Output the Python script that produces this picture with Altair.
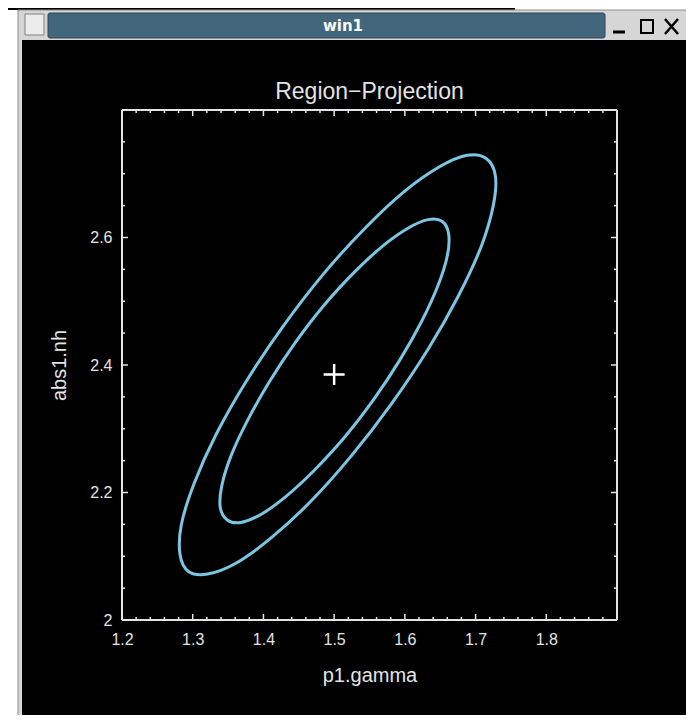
import altair as alt
import pandas as pd

# ---- data (confidence contours, best-fit point) ----
outer_x = [1.715, 1.728, 1.725, 1.708, 1.676, 1.633, 1.581, 1.524, 1.466, 1.410, 1.361, 1.321,
           1.294, 1.282, 1.284, 1.302, 1.333, 1.376, 1.428, 1.485, 1.544, 1.599, 1.649, 1.688]
outer_y = [2.724, 2.697, 2.650, 2.586, 2.509, 2.425, 2.339, 2.257, 2.185, 2.128, 2.089, 2.072,
           2.076, 2.103, 2.150, 2.214, 2.291, 2.375, 2.461, 2.543, 2.615, 2.672, 2.711, 2.729]
inner_x = [1.653, 1.662, 1.660, 1.647, 1.624, 1.593, 1.556, 1.515, 1.472, 1.432, 1.397, 1.368,
           1.349, 1.339, 1.341, 1.354, 1.377, 1.408, 1.445, 1.486, 1.529, 1.569, 1.605, 1.633]
inner_y = [2.625, 2.605, 2.571, 2.525, 2.469, 2.408, 2.346, 2.287, 2.235, 2.194, 2.166, 2.153,
           2.157, 2.176, 2.210, 2.257, 2.312, 2.373, 2.435, 2.494, 2.546, 2.587, 2.615, 2.628]
best_fit_x = [1.5]
best_fit_y = [2.385]

x_domain = [1.2, 1.9]
y_domain = [2.0, 2.8]
x_labels = [1.2, 1.3, 1.4, 1.5, 1.6, 1.7, 1.8]
y_labels = [2.0, 2.2, 2.4, 2.6]
x_major = [1.3, 1.4, 1.5, 1.6, 1.7, 1.8]
x_minor = [1.22, 1.24, 1.26, 1.28, 1.32, 1.34, 1.36, 1.38, 1.42, 1.44, 1.46, 1.48,
           1.52, 1.54, 1.56, 1.58, 1.62, 1.64, 1.66, 1.68, 1.72, 1.74, 1.76, 1.78,
           1.82, 1.84, 1.86, 1.88]
y_major = [2.2, 2.4, 2.6]
y_minor = [2.05, 2.1, 2.15, 2.25, 2.3, 2.35, 2.45, 2.5, 2.55, 2.65, 2.7, 2.75]

TITLE = "Region\u2212Projection"
X_TITLE = "p1.gamma"
Y_TITLE = "abs1.nh"
WIN_TITLE = "win1"

W, H = 495, 510
FG = "#e4e4e4"
CONTOUR = "#7cc6e4"
FONT = "Liberation Sans"

rows = []
for name, xs_, ys_ in (("outer", outer_x, outer_y), ("inner", inner_x, inner_y)):
    for i, (a, b) in enumerate(zip(xs_, ys_)):
        rows.append({"contour": name, "i": i, "x": a, "y": b})
cdf = pd.DataFrame(rows)

xs = alt.Scale(domain=x_domain, nice=False, zero=False)
ys = alt.Scale(domain=y_domain, nice=False, zero=False)

x_axis = alt.Axis(values=x_labels, format=".1f", title=X_TITLE, grid=False, domain=False,
                  ticks=False, tickSize=0, labelFlush=False, labelColor=FG, labelFont=FONT,
                  labelFontSize=16, labelPadding=11, titleColor=FG, titleFont=FONT,
                  titleFontSize=20, titleFontWeight="normal", titlePadding=18, zindex=1)
y_axis = alt.Axis(values=y_labels, format=".1~f", title=Y_TITLE, grid=False, domain=False,
                  ticks=False, tickSize=0, labelFlush=False, labelColor=FG, labelFont=FONT,
                  labelFontSize=16, labelPadding=10, titleColor=FG, titleFont=FONT,
                  titleFontSize=20, titleFontWeight="normal", titlePadding=20, zindex=1)

def X(f="x"):
    return alt.X(f"{f}:Q", scale=xs, axis=x_axis, title=X_TITLE)

def Y(f="y"):
    return alt.Y(f"{f}:Q", scale=ys, axis=y_axis, title=Y_TITLE)

one = pd.DataFrame({"k": [0]})

# ---- window chrome (decoration) ----
def rect(x1, x2, y1, y2, **kw):
    return alt.Chart(one).mark_rect(**kw).encode(
        x=alt.value(x1), x2=alt.value(x2), y=alt.value(y1), y2=alt.value(y2))

def seg(x1, x2, y1, y2, **kw):
    return alt.Chart(one).mark_rule(**kw).encode(
        x=alt.value(x1), x2=alt.value(x2), y=alt.value(y1), y2=alt.value(y2))

strip = rect(-114, 393, -102, -100, fill="black")
frame = rect(-104, 570, -100, 610, fill="#d6d6d6", stroke="#8c8c8c", strokeWidth=1)
content = rect(-100, 570, -70, 610, fill="black")
bar = rect(-74, 483, -97, -72, fill="#42667b", stroke="#2c4658", strokeWidth=1, cornerRadius=2)
bar_text = alt.Chart(one).mark_text(text=WIN_TITLE, color="white", font="DejaVu Sans",
                                    fontWeight="bold", fontSize=15, baseline="middle",
                                    align="center").encode(
    x=alt.value(221), y=alt.value(-84))
icon = rect(-97, -78, -96, -75, fill="#ececec", stroke="#808080", strokeWidth=1)
minimize = seg(491, 503, -78, -78, color="black", strokeWidth=3)
maximize = rect(519, 531, -90, -77, fill="#d6d6d6", stroke="black", strokeWidth=2)
close1 = seg(543, 556, -91, -76, color="black", strokeWidth=2.5)
close2 = seg(556, 543, -91, -76, color="black", strokeWidth=2.5)

title_text = alt.Chart(one).mark_text(text=TITLE, color=FG, font=FONT, fontSize=23,
                                      baseline="middle", align="center").encode(
    x=alt.value(W / 2), y=alt.value(-18))

# ---- plot box and inward ticks ----
box_v = alt.Chart(pd.DataFrame({"x": x_domain})).mark_rule(color=FG, strokeWidth=2).encode(
    x=X(), y=alt.value(0), y2=alt.value(H))
box_h = alt.Chart(pd.DataFrame({"y": y_domain})).mark_rule(color=FG, strokeWidth=2).encode(
    y=Y(), x=alt.value(0), x2=alt.value(W))

def xticks(vals, length):
    d = pd.DataFrame({"x": vals})
    b = alt.Chart(d).mark_rule(color=FG, strokeWidth=1.5).encode(
        x=X(), y=alt.value(H), y2=alt.value(H - length))
    t = alt.Chart(d).mark_rule(color=FG, strokeWidth=1.5).encode(
        x=X(), y=alt.value(0), y2=alt.value(length))
    return [b, t]

def yticks(vals, length):
    d = pd.DataFrame({"y": vals})
    l = alt.Chart(d).mark_rule(color=FG, strokeWidth=1.5).encode(
        y=Y(), x=alt.value(0), x2=alt.value(length))
    r = alt.Chart(d).mark_rule(color=FG, strokeWidth=1.5).encode(
        y=Y(), x=alt.value(W), x2=alt.value(W - length))
    return [l, r]

ticks = xticks(x_major, 6) + xticks(x_minor, 3) + yticks(y_major, 6) + yticks(y_minor, 3)

# ---- contours ----
contours = alt.Chart(cdf).mark_line(interpolate="cardinal-closed", strokeWidth=3,
                                     color=CONTOUR).encode(
    x=X(), y=Y(), detail="contour:N", order="i:Q")

cross = alt.Chart(pd.DataFrame({"x": best_fit_x, "y": best_fit_y})).mark_point(
    shape="M-1,0L1,0M0,-1L0,1", size=440, filled=False, color="white",
    strokeWidth=2.5, opacity=1).encode(x=X(), y=Y())

chart = alt.layer(
    strip, frame, content, bar, bar_text, icon, minimize, maximize, close1, close2,
    title_text, *ticks, box_v, box_h, contours, cross
).properties(
    width=W, height=H,
    autosize=alt.AutoSizeParams(type="none"),
    padding={"left": 114, "top": 102, "right": 69, "bottom": 95},
    background="white"
).configure_view(stroke=None)

chart.save("out.html", embed_options={"renderer": "svg", "actions": False})
